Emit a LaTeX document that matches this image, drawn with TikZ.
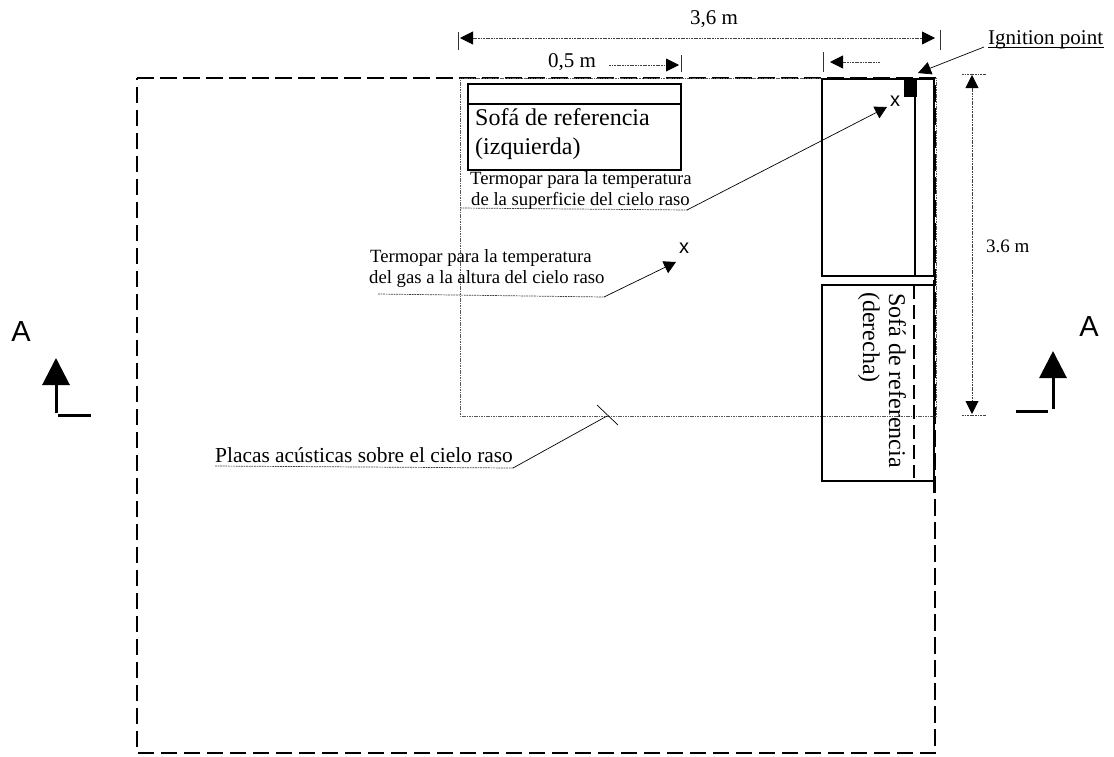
\documentclass[tikz,border=0pt]{standalone}
\usepackage{fontspec}
\setmainfont{Liberation Serif}
\newfontfamily\labelsans{Liberation Sans}
\usetikzlibrary{arrows.meta}
\tikzset{
  x=1pt,y=-1pt,
  wall/.style={draw=black,line width=1.7pt,dash pattern=on 16.5pt off 6.5pt},
  panel/.style={draw=black!65,line width=1pt,dash pattern=on 1.6pt off 0.8pt},
  dim/.style={draw=black!75,line width=0.9pt,dash pattern=on 1.8pt off 0.8pt},
  tick/.style={draw=black!80,line width=0.8pt},
  leader/.style={draw=black,line width=0.7pt},
  box/.style={draw=black,line width=1.5pt},
  tip/.style={-{Triangle[length=13pt,width=13pt,black,sep=0pt]}},
  bothtip/.style={{Triangle[length=13pt,width=13pt,black]}-{Triangle[length=13pt,width=13pt,black]}},
  smalltip/.style={-{Triangle[length=12pt,width=13pt,black]}},
  bigtip/.style={-{Triangle[length=27pt,width=27pt]}},
  lab/.style={inner sep=0pt,anchor=base west},
  section/.style={draw=black,line width=3pt},
  fsofa/.style={font=\fontsize{24}{24}\selectfont},
  ftermo/.style={font=\fontsize{18.7}{18.7}\selectfont},
  fdim/.style={font=\fontsize{21}{21}\selectfont},
  fsans/.style={font=\labelsans\fontsize{20}{20}\selectfont},
  fsec/.style={font=\labelsans\fontsize{29}{29}\selectfont},
}
\begin{document}
\begin{tikzpicture}
\useasboundingbox (0,0) rectangle (1114,756);
% room and panel
\coordinate (wTL) at (137,78); \coordinate (wTR) at (935,78);
\coordinate (wBR) at (935,753); \coordinate (wBL) at (137,753);
\draw[wall] (wTL) -- (wTR) -- (wBR) -- (wBL) -- cycle;
\coordinate (pTL) at (460,78); \coordinate (pBL) at (460,416);
\coordinate (pBR) at (936,416); \coordinate (pTR) at (936,78);
\draw[panel] (pTR) -- (pTL) -- (pBL) -- (pBR) -- (pTR);
% sofas
\draw[box,fill=white] (468,84) rectangle (681,170);
\draw[box] (468,104) -- (681,104);
\draw[box,fill=none] (822,79) rectangle (934,276);
\draw[box] (915,79) -- (915,276);
\draw[box] (934,285) -- (822,285) -- (822,481) -- (934,481);
\draw[box] (934,280) -- (934,493);
\draw[box,dash pattern=on 14pt off 6pt] (914,285) -- (914,478);
\node[fill=black,inner sep=0pt,minimum width=13pt,minimum height=17pt,anchor=north west] (ign) at (904,80) {};
% dimension 3,6 m
\coordinate (a1) at (460,38); \coordinate (a2) at (935,38);
\draw[tick] (458,32) -- (458,50);
\draw[tick] (940,30) -- (940,50);
\draw[dim,bothtip] (a1) -- (a2);
\node[lab,fdim] (l36) at (690,24) {3,6 m};
% dimension 0,5 m
\node[lab,fdim] (l05) at (548,67) {0,5 m};
\coordinate (b1) at (609,65); \coordinate (b2) at (679,65);
\draw[dim,tip] (b1) -- (b2);
\draw[tick] (681,55) -- (681,72);
\coordinate (c1) at (880,62); \coordinate (c2) at (830,62);
\draw[dim,tip] (c1) -- (c2);
\draw[tick] (823,52) -- (823,72);
% vertical dim
\coordinate (d1) at (972,75); \coordinate (d2) at (972,414);
\draw[dim,bothtip] (d1) -- (d2);
\draw[dim] (962,74.5) -- (986,74.5);
\draw[dim] (962,415) -- (986,415);
\node[lab,font=\fontsize{19}{19}\selectfont] (l36b) at (986,252) {3.6 m};
% ignition
\node[lab,fdim] (ignl) at (988,44) {Ignition point};
\draw[leader] (988,47.5) -- (1104,47.5);
\coordinate (i1) at (984,47); \coordinate (i2) at (918,73);
\draw[leader,tip] (i1) -- (i2);
% sofa labels
\node[lab,fsofa] (s1) at (475,125) {Sofá de referencia};
\node[lab,fsofa] (s2) at (475,154) {(izquierda)};
\node[inner sep=0pt,anchor=base west,rotate=-90,fsofa] (s3) at (889,293) {Sofá de referencia};
\node[inner sep=0pt,anchor=base west,rotate=-90,fsofa] (s4) at (863,292) {(derecha)};
% thermocouple surface
\node[lab,ftermo] (t1) at (470,184) {Termopar para la temperatura};
\node[lab,ftermo] (t2) at (471,205) {de la superficie del cielo raso};
\coordinate (t3) at (460,208); \coordinate (t4) at (687,210); \coordinate (t5) at (887,107);
\draw[dim,line width=0.7pt] (t3) -- (t4);
\draw[leader,smalltip] (t4) -- (t5);
\node[inner sep=0pt,fsans] (x1) at (895,101) {x};
% thermocouple gas
\node[lab,ftermo] (g1) at (370,262) {Termopar para la temperatura};
\node[lab,ftermo] (g2) at (369,283) {del gas a la altura del cielo raso};
\coordinate (g3) at (378,294); \coordinate (g4) at (604,297); \coordinate (g5) at (676,262);
\draw[dim,line width=0.7pt] (g3) -- (g4);
\draw[leader,smalltip] (g4) -- (g5);
\node[inner sep=0pt,fsans] (x2) at (684,248) {x};
% acoustic plates
\node[lab,font=\fontsize{21.4}{21.4}\selectfont] (pl) at (215,462) {Placas acústicas sobre el cielo raso};
\coordinate (p3) at (215,466); \coordinate (p4) at (513,468); \coordinate (p5) at (607,416);
\draw[dim,line width=0.7pt] (p3) -- (p4);
\draw[leader] (p4) -- (p5);
\draw[leader] (597,405) -- (618,425);
% section marks
\node[inner sep=0pt,fsec] (A1) at (21,332) {A};
\node[inner sep=0pt,fsec] (A2) at (1089,327) {A};
\coordinate (e1) at (56,413); \coordinate (e2) at (56,358);
\draw[section,bigtip] (e1) -- (e2);
\draw[section] (58,415) -- (91,415);
\coordinate (f1) at (1053,409); \coordinate (f2) at (1053,351);
\draw[section,bigtip] (f1) -- (f2);
\draw[section] (1016,411) -- (1048,411);
\end{tikzpicture}
\end{document}
